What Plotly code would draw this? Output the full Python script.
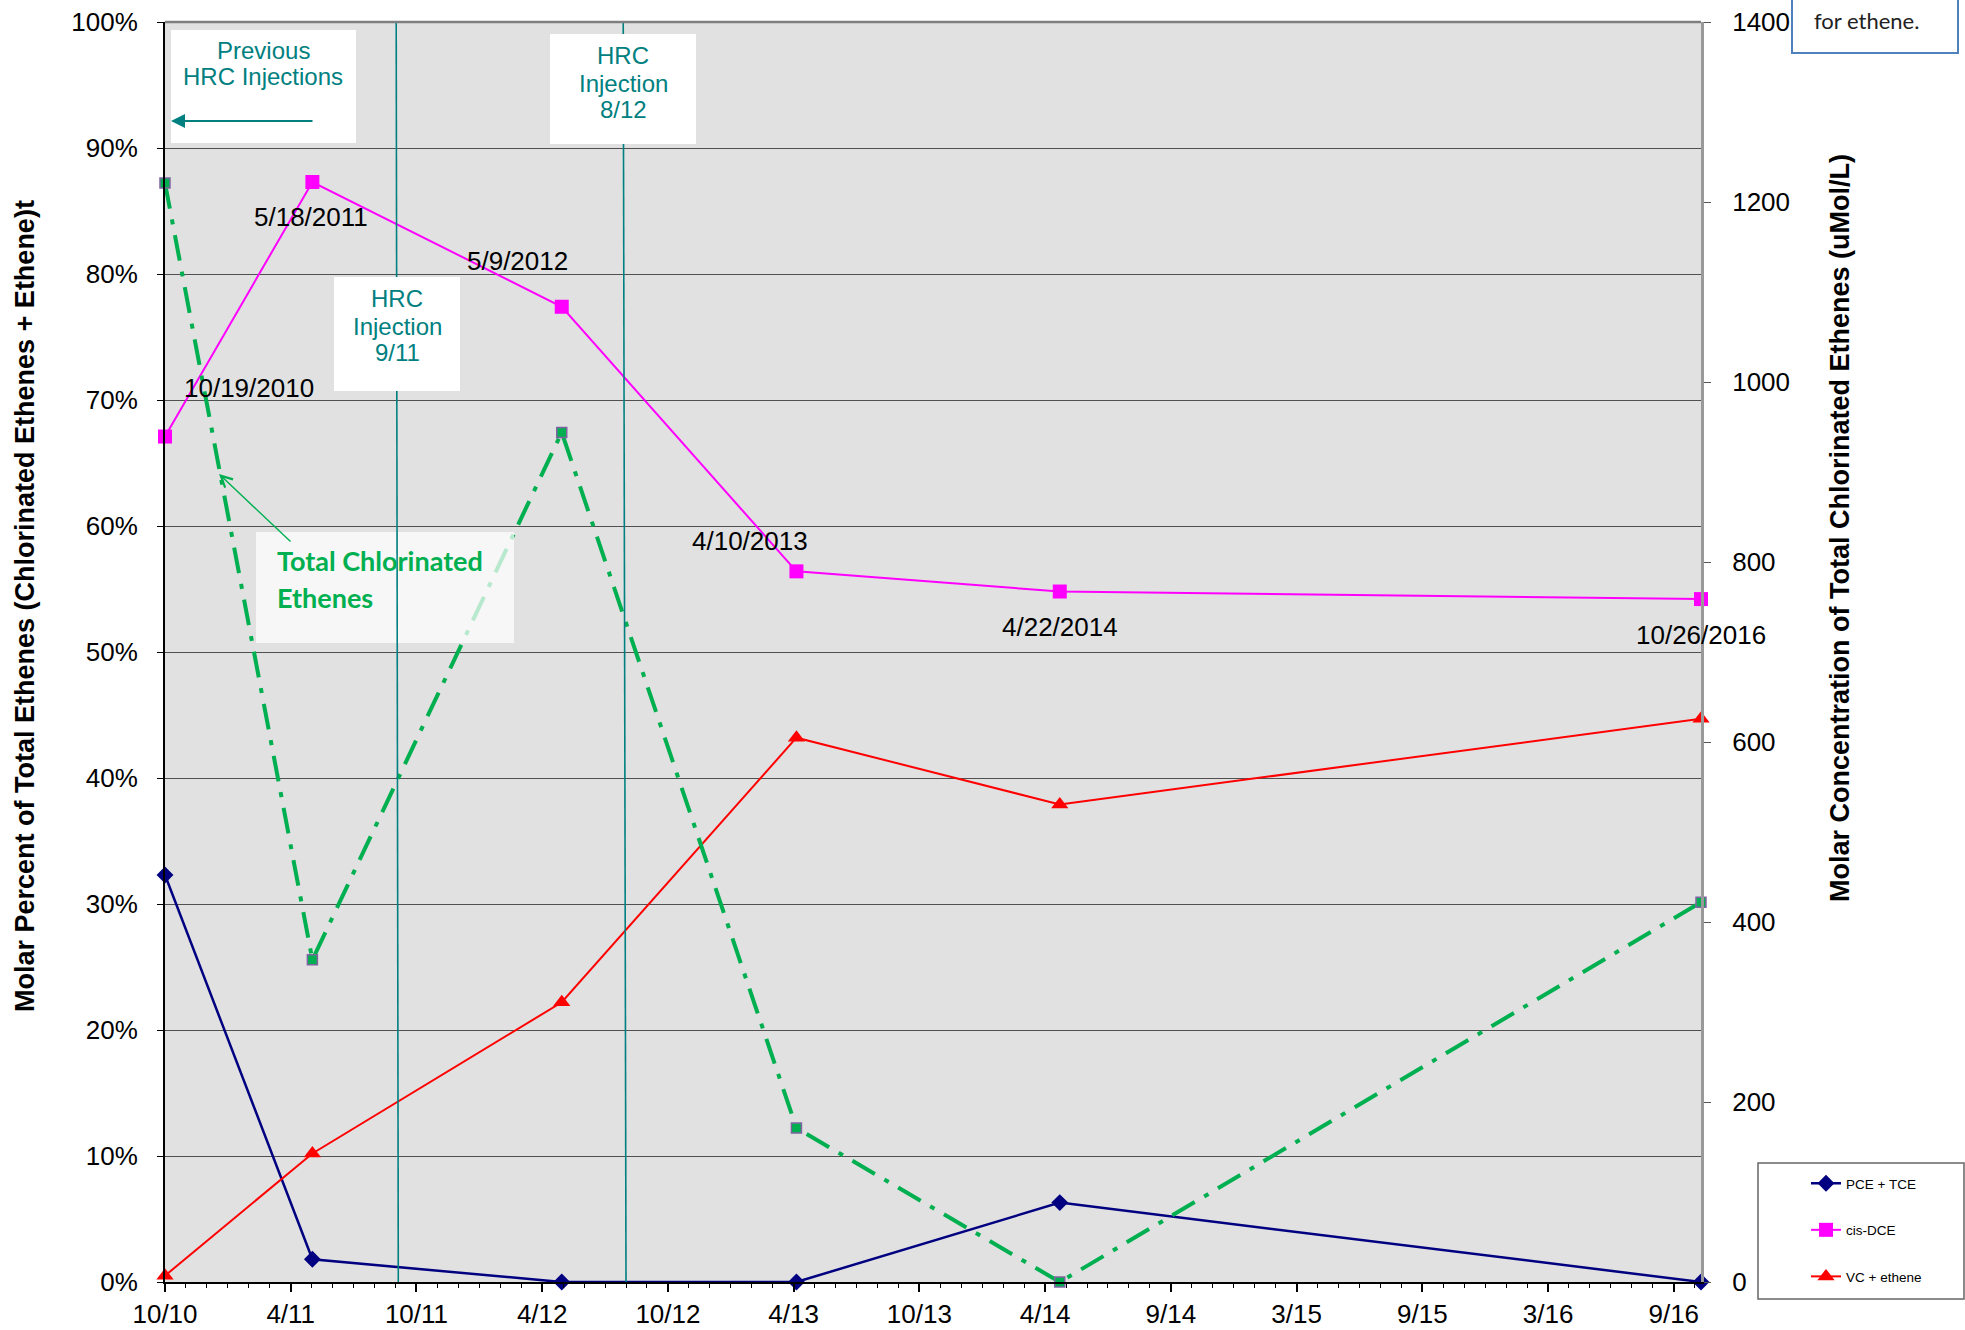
import pandas as pd
import plotly.graph_objects as go

# Sampling events
sample_dates = ["2010-10-19", "2011-05-18", "2012-05-09", "2013-04-10", "2014-04-22", "2016-10-26"]
sample_labels = ["10/19/2010", "5/18/2011", "5/9/2012", "4/10/2013", "4/22/2014", "10/26/2016"]

# Molar fraction of total ethenes
pce_tce = [0.323, 0.018, 0.000, 0.000, 0.063, 0.000]
cis_dce = [0.671, 0.873, 0.774, 0.564, 0.548, 0.542]
vc_ethene = [0.005, 0.102, 0.222, 0.432, 0.379, 0.447]

# Total chlorinated ethenes (uMol/L)
total_chlorinated = [1221, 358, 944, 171, 0, 422]

# HRC injection events (vertical markers: top, bottom)
injections = [("2011-09-15", "2011-09-18", "HRC<br>Injection<br>9/11"),
              ("2012-08-05", "2012-08-09", "HRC<br>Injection<br>8/12")]

# Date axis ticks
x_start, x_end = "2010-10-19", "2016-10-26"
tick_labels = ["10/10", "4/11", "10/11", "4/12", "10/12", "4/13", "10/13",
               "4/14", "9/14", "3/15", "9/15", "3/16", "9/16"]
tick_dates = pd.date_range(x_start, periods=len(tick_labels), freq="180D")

W, H = 1965, 1330
L, R, T, B = 165, 1701, 22, 1282


def px(x):
    return (x - L) / (R - L)


def py(y):
    return (B - y) / (B - T)


TEAL = "#008080"
GREEN = "#00B050"
ARIAL = "Arial, Liberation Sans, sans-serif"

fig = go.Figure()

fig.add_trace(go.Scatter(
    x=sample_dates, y=total_chlorinated, yaxis="y2", mode="lines+markers",
    name="Total Chlorinated Ethenes", showlegend=False, cliponaxis=False,
    line=dict(color=GREEN, width=4, dash="26px,11px,5px,11px"),
    marker=dict(symbol="square", size=10, color=GREEN, line=dict(color="#8064A2", width=1.5)),
))
fig.add_trace(go.Scatter(
    x=sample_dates, y=pce_tce, mode="lines+markers", name="PCE + TCE",
    legendgroup="a", cliponaxis=False,
    line=dict(color="#000080", width=2.5),
    marker=dict(symbol="diamond", size=13, color="#000080"),
))
fig.add_trace(go.Scatter(
    x=sample_dates, y=cis_dce, mode="lines+markers", name="cis-DCE",
    legendgroup="b", cliponaxis=False,
    line=dict(color="#FF00FF", width=2),
    marker=dict(symbol="square", size=14, color="#FF00FF"),
))
fig.add_trace(go.Scatter(
    x=sample_dates, y=vc_ethene, mode="lines+markers", name="VC + ethene",
    legendgroup="c", cliponaxis=False,
    line=dict(color="#FF0000", width=2),
    marker=dict(symbol="triangle-up", size=15, color="#FF0000"),
))

shapes = []
# translucent panel behind the "Total Chlorinated Ethenes" callout
shapes.append(dict(type="rect", xref="paper", yref="paper", layer="above",
                   x0=px(256), x1=px(514), y0=py(643), y1=py(532),
                   fillcolor="rgba(255,255,255,0.72)", line=dict(width=0)))
# injection lines
for top, bottom, _ in injections:
    shapes.append(dict(type="line", xref="x", yref="paper", layer="above",
                       x0=top, x1=bottom, y0=1, y1=0,
                       line=dict(color=TEAL, width=1.6)))
# white boxes behind injection notes
for x0, x1, y0, y1 in [(171, 356, 30, 143), (550, 696, 34, 144), (334, 460, 277, 391)]:
    shapes.append(dict(type="rect", xref="paper", yref="paper", layer="above",
                       x0=px(x0), x1=px(x1), y0=py(y1), y1=py(y0),
                       fillcolor="white", line=dict(width=0)))
# top border of plot area
shapes.append(dict(type="line", xref="paper", yref="paper", x0=0, x1=1, y0=1, y1=1,
                   line=dict(color="#7F7F7F", width=2.5)))
# note box in the top-right corner
shapes.append(dict(type="rect", xref="paper", yref="paper",
                   x0=px(1792), x1=px(1958), y0=py(53), y1=py(-10),
                   fillcolor="white", line=dict(color="#4F81BD", width=2)))
# legend frame
shapes.append(dict(type="rect", xref="paper", yref="paper",
                   x0=px(1758), x1=px(1964), y0=py(1299), y1=py(1163),
                   fillcolor="white", line=dict(color="#666666", width=1.5)))

annotations = []
# sample date labels beside the cis-DCE points
label_offsets = [(84, 49), (-1, -35), (-44, 46), (-46, 30), (0, -35), (0, -36)]
for d, v, lab, (dx, dy) in zip(sample_dates, cis_dce, sample_labels, label_offsets):
    annotations.append(dict(x=d, y=v, xref="x", yref="y", text=lab, showarrow=False,
                            xshift=dx, yshift=dy,
                            font=dict(family=ARIAL, size=26, color="black")))

# injection notes, one line at a time
note_lines = [("Previous", 263, 50), ("HRC Injections", 263, 77),
              ("HRC", 623, 55), ("Injection", 623, 83), ("8/12", 623, 110),
              ("HRC", 397, 298), ("Injection", 397, 326), ("9/11", 397, 353)]
for txt, cx, cy in note_lines:
    annotations.append(dict(x=px(cx), y=py(cy), xref="paper", yref="paper", text=txt,
                            showarrow=False, xanchor="center", yanchor="middle",
                            font=dict(family=ARIAL, size=24, color=TEAL)))
# arrow pointing back to earlier injections
annotations.append(dict(x=px(171), y=py(121), xref="paper", yref="paper", text="",
                        showarrow=True, ax=143, ay=0, arrowhead=2, arrowsize=1.4,
                        arrowwidth=2, arrowcolor=TEAL))

# callout for the total concentration series
for txt, cy in [("Total Chlorinated", 560), ("Ethenes", 597)]:
    annotations.append(dict(x=px(275), y=py(cy), xref="paper", yref="paper", text="<b>%s</b>" % txt,
                            showarrow=False, xanchor="left", yanchor="middle",
                            font=dict(family="Lato, Carlito, sans-serif", size=27, color=GREEN)))
annotations.append(dict(x=px(219), y=py(474), xref="paper", yref="paper", text="",
                        showarrow=True, ax=73, ay=69, arrowhead=5, arrowsize=1.6,
                        arrowwidth=1.4, arrowcolor=GREEN))

# axis titles
annotations.append(dict(x=px(25), y=py(606), xref="paper", yref="paper", textangle=-90,
                        text="<b>Molar Percent of Total Ethenes (Chlorinated Ethenes + Ethene)t</b>",
                        showarrow=False, xanchor="center", yanchor="middle",
                        font=dict(family=ARIAL, size=27, color="black")))
annotations.append(dict(x=px(1840), y=py(528), xref="paper", yref="paper", textangle=-90,
                        text="<b>Molar Concentration of Total Chlorinated Ethenes (uMol/L)</b>",
                        showarrow=False, xanchor="center", yanchor="middle",
                        font=dict(family=ARIAL, size=27, color="black")))
# corner note text
annotations.append(dict(x=px(1866), y=py(20), xref="paper", yref="paper", text="for ethene.",
                        showarrow=False, xanchor="center", yanchor="middle",
                        font=dict(family="Lato, Carlito, sans-serif", size=22, color="#222222")))

tick_font = dict(family=ARIAL, size=26, color="black")

fig.update_layout(
    width=W, height=H, autosize=False,
    margin=dict(l=L, r=W - R, t=T, b=H - B, pad=0, autoexpand=False),
    paper_bgcolor="white", plot_bgcolor="#E1E1E1",
    xaxis=dict(type="date", range=[x_start, x_end], tickmode="array",
               tickvals=tick_dates, ticktext=tick_labels, automargin=False,
               ticks="outside", ticklen=8, tickwidth=1.5, tickcolor="black",
               minor=dict(ticks="outside", ticklen=4, tickwidth=1, tickcolor="black",
                          tick0=x_start, dtick=30 * 86400000, showgrid=False),
               showline=True, linecolor="black", linewidth=2,
               showgrid=False, zeroline=False, tickfont=tick_font, ticklabelstandoff=0),
    yaxis=dict(range=[0, 1], tickmode="linear", tick0=0, dtick=0.1, tickformat=".0%",
               showgrid=True, gridcolor="#505050", gridwidth=1, automargin=False,
               showline=True, linecolor="black", linewidth=2,
               ticks="outside", ticklen=6, tickcolor="black",
               zeroline=False, tickfont=tick_font, ticklabelstandoff=14),
    yaxis2=dict(range=[0, 1400], overlaying="y", side="right", tickmode="linear",
                tick0=0, dtick=200, showgrid=False, automargin=False,
                showline=True, linecolor="#999999", linewidth=3,
                ticks="outside", ticklen=7, tickcolor="#555555",
                zeroline=False, tickfont=tick_font, ticklabelstandoff=16),
    legend=dict(x=px(1806), y=py(1168), xanchor="left", yanchor="top",
                bgcolor="rgba(0,0,0,0)", borderwidth=0, tracegroupgap=26,
                traceorder="grouped",
                font=dict(family=ARIAL, size=13.5, color="black")),
    shapes=shapes,
    annotations=annotations,
)

fig.write_html("out.html")
